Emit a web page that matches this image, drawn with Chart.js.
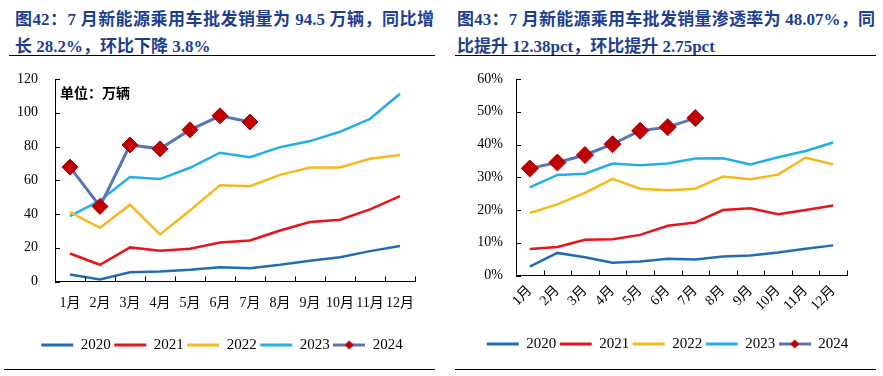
<!DOCTYPE html>
<html>
<head>
<meta charset="utf-8">
<script src="https://cdn.jsdelivr.net/npm/chart.js@4/dist/chart.umd.min.js"></script>
<style>
  body { margin: 0; background: #fff; width: 883px; height: 376px; position: relative; overflow: hidden; }
  .title { position: absolute; top: 6px; font: bold 17px/27px 'Liberation Serif', 'Noto Sans CJK SC', serif; color: #1e3f8f; }
  .title div { white-space: nowrap; }
  .title .l1 { text-align: justify; text-align-last: justify; }
  .rule { position: absolute; height: 0; border-top: 1.5px solid #000; }
  canvas { position: absolute; top: 60px; }
  .unit { position: absolute; left: 60px; top: 82px; font: bold 14px 'Noto Sans CJK SC', sans-serif; color: #000; }
</style>
</head>
<body>
<div class="title" style="left:15px; width:419px;">
  <div class="l1">图42：7 月新能源乘用车批发销量为 94.5 万辆，同比增</div>
  <div>长 28.2%，环比下降 3.8%</div>
</div>
<div class="title" style="left:457px; width:418px;">
  <div class="l1">图43：7 月新能源乘用车批发销量渗透率为 48.07%，同</div>
  <div>比提升 12.38pct，环比提升 2.75pct</div>
</div>
<div class="rule" style="left:9px; width:426px; top:55px;"></div>
<div class="rule" style="left:455px; width:421px; top:55px;"></div>
<div class="rule" style="left:4px; width:431px; top:369px;"></div>
<div class="rule" style="left:455px; width:421px; top:369px;"></div>

<canvas id="salesChart" width="440" height="305" style="left:0px;"></canvas>
<canvas id="rateChart" width="443" height="305" style="left:440px;"></canvas>
<div class="unit">单位：万辆</div>

<script>
const months = ['1月', '2月', '3月', '4月', '5月', '6月', '7月', '8月', '9月', '10月', '11月', '12月'];
const years = ['2020', '2021', '2022', '2023', '2024'];

// 批发销量（万辆）
const sales2020 = [4.2, 1.2, 5.5, 5.9, 6.9, 8.5, 7.9, 9.9, 12.3, 14.4, 18.0, 21.0];
const sales2021 = [16.6, 9.9, 20.2, 18.2, 19.4, 23.1, 24.3, 30.2, 35.2, 36.6, 42.7, 50.6];
const sales2022 = [41.1, 31.8, 45.5, 27.9, 42.1, 57.1, 56.5, 63.2, 67.6, 67.6, 72.7, 74.9];
const sales2023 = [38.7, 48.0, 61.9, 60.7, 67.4, 76.3, 73.7, 79.6, 83.2, 88.7, 96.4, 111.3];
const sales2024 = [67.8, 44.5, 80.9, 78.6, 89.9, 98.2, 94.5];
const salesTicks = [0, 20, 40, 60, 80, 100, 120];

// 渗透率（%）
const rate2020 = [2.7, 6.9, 5.6, 3.9, 4.3, 5.1, 4.9, 5.8, 6.1, 7.0, 8.2, 9.2];
const rate2021 = [8.1, 8.7, 10.9, 11.1, 12.4, 15.2, 16.2, 20.0, 20.5, 18.7, 20.0, 21.4];
const rate2022 = [19.1, 21.7, 25.2, 29.5, 26.5, 26.0, 26.5, 30.2, 29.4, 30.8, 36.0, 33.9];
const rate2023 = [26.9, 30.7, 31.1, 34.2, 33.7, 34.2, 35.7, 35.8, 33.9, 36.1, 38.0, 40.6];
const rate2024 = [32.7, 34.5, 36.8, 40.1, 44.2, 45.3, 48.07];
const rateTicks = [0, 10, 20, 30, 40, 50, 60];

const lineColors = ['#1f6db5', '#e8141c', '#f8b81c', '#22aee6', '#5b74b8'];
const markerColor = '#c00000';
const axisFont = { family: "'Liberation Serif', 'Noto Sans CJK SC', serif", size: 14 };

// legend icon for 2024: line with a diamond
const markerIcon = document.createElement('canvas');
markerIcon.width = 32;
markerIcon.height = 12;
(function() {
    const c = markerIcon.getContext('2d');
    c.strokeStyle = lineColors[4];
    c.lineWidth = 3;
    c.beginPath(); c.moveTo(0, 6); c.lineTo(32, 6); c.stroke();
    c.fillStyle = markerColor;
    c.beginPath(); c.moveTo(11.5, 6); c.lineTo(16, 1.5); c.lineTo(20.5, 6); c.lineTo(16, 10.5); c.closePath(); c.fill();
})();

// small tick marks pointing into the plot
const innerTicks = {
    id: 'innerTicks',
    afterDraw(chart) {
        const ctx = chart.ctx;
        const area = chart.chartArea;
        const x = chart.scales.x;
        const y = chart.scales.y;
        ctx.save();
        ctx.strokeStyle = '#000';
        ctx.lineWidth = 1;
        ctx.beginPath();
        for (let i = 0; i <= months.length; i++) {
            const px = Math.round(x.getPixelForValue(i - 0.5)) + 0.5;
            ctx.moveTo(px, area.bottom);
            ctx.lineTo(px, area.bottom - 5);
        }
        y.ticks.forEach((t, i) => {
            const py = Math.round(y.getPixelForTick(i)) + 0.5;
            ctx.moveTo(area.left, py);
            ctx.lineTo(area.left + 5, py);
        });
        ctx.stroke();
        ctx.restore();
    }
};

function makeDatasets(series, radius) {
    return series.map((data, i) => {
        const last = i === series.length - 1;
        return {
            label: years[i],
            data: data,
            borderColor: lineColors[i],
            backgroundColor: last ? markerColor : lineColors[i],
            borderWidth: last ? 3 : 2.5,
            pointStyle: 'rectRot',
            pointRadius: last ? radius : 0,
            pointHoverRadius: last ? radius : 0,
            pointBackgroundColor: markerColor,
            pointBorderColor: '#a00000',
            pointBorderWidth: 1,
            tension: 0,
            order: last ? 0 : 1
        };
    });
}

function makeChart(id, series, tickValues, opts) {
    const ctx = document.getElementById(id).getContext('2d');
    return new Chart(ctx, {
        type: 'line',
        data: { labels: months, datasets: makeDatasets(series, opts.radius) },
        plugins: [innerTicks],
        options: {
            responsive: false,
            animation: false,
            events: [],
            layout: { padding: { top: 19, bottom: opts.bottomPad, left: opts.leftPad, right: 0 } },
            plugins: {
                tooltip: { enabled: false },
                legend: {
                    position: 'bottom',
                    labels: {
                        color: '#000',
                        font: { family: "'Liberation Serif', serif", size: 15 },
                        usePointStyle: true,
                        pointStyleWidth: 32,
                        padding: 3.5,
                        generateLabels(chart) {
                            const items = Chart.defaults.plugins.legend.labels.generateLabels(chart);
                            items.forEach(it => {
                                const last = it.datasetIndex === series.length - 1;
                                it.pointStyle = last ? markerIcon : 'line';
                                it.strokeStyle = lineColors[it.datasetIndex];
                                it.lineWidth = 3;
                            });
                            items.sort((a, b) => a.datasetIndex - b.datasetIndex);
                            return items;
                        }
                    }
                }
            },
            scales: {
                x: {
                    offset: true,
                    grid: { display: true, drawOnChartArea: false, drawTicks: false, offset: true },
                    border: { display: true, color: '#000', width: 1 },
                    ticks: {
                        color: '#000',
                        font: axisFont,
                        padding: opts.xPad,
                        autoSkip: false,
                        maxRotation: opts.rotation,
                        minRotation: opts.rotation
                    },
                    afterFit: s => { s.height = opts.xHeight; }
                },
                y: {
                    min: tickValues[0],
                    max: tickValues[tickValues.length - 1],
                    afterBuildTicks: s => { s.ticks = tickValues.map(v => ({ value: v })); },
                    // outer tick marks hidden; their length only sets the label gap
                    grid: { display: true, drawOnChartArea: false, drawTicks: true, tickLength: opts.yGap, tickColor: 'rgba(0,0,0,0)' },
                    border: { display: true, color: '#000', width: 1 },
                    ticks: {
                        color: '#000',
                        font: axisFont,
                        padding: 3,
                        callback: v => v + opts.suffix
                    },
                    afterFit: s => { s.width = opts.yWidth; }
                },
                spacer: {
                    position: 'right',
                    display: true,
                    grid: { display: false },
                    border: { display: false },
                    ticks: { display: false },
                    afterFit: s => { s.width = opts.rightGap; }
                }
            }
        }
    });
}

makeChart('salesChart', [sales2020, sales2021, sales2022, sales2023, sales2024], salesTicks, {
    radius: 8, bottomPad: 2.5, leftPad: 4, xPad: 13, rotation: 0, xHeight: 52.5,
    yGap: 14, yWidth: 51, rightGap: 25, suffix: ''
});

makeChart('rateChart', [rate2020, rate2021, rate2022, rate2023, rate2024], rateTicks, {
    radius: 8.5, bottomPad: 3.5, leftPad: 12, xPad: 7, rotation: 45, xHeight: 57.5,
    yGap: 10, yWidth: 64, rightGap: 36, suffix: '%'
});
</script>
</body>
</html>
